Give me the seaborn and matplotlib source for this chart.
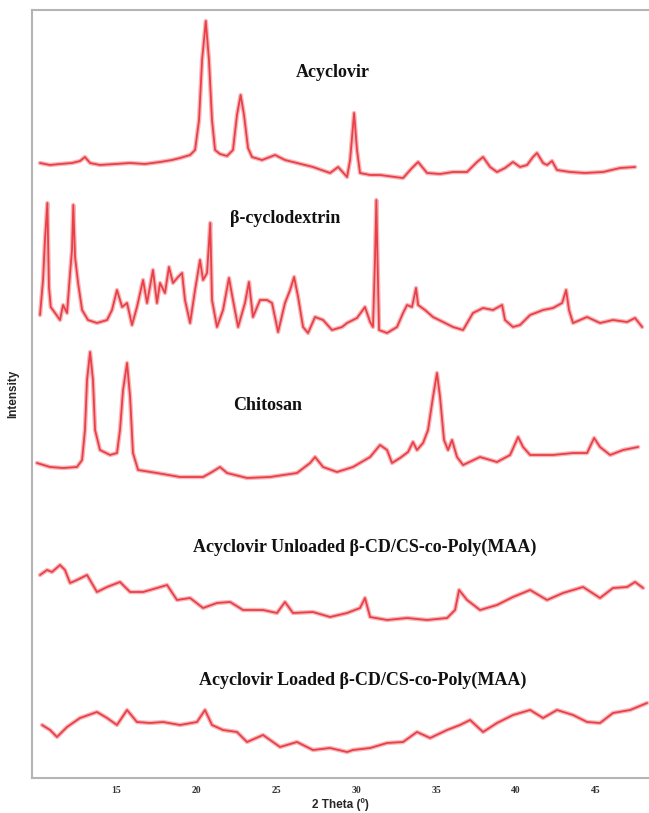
import numpy as np
import pandas as pd
import seaborn as sns
import matplotlib
matplotlib.use("Agg")
import matplotlib.pyplot as plt

# ---- XRD patterns (2θ in degrees, relative intensity in arbitrary units) ----
acv_theta = [10.25, 10.88, 11.5, 12.25, 12.75, 13.06, 13.38, 14.0, 14.94, 15.88, 16.81, 17.75,
             18.5, 19.0, 19.63, 19.94, 20.19, 20.38, 20.61, 20.81, 21.0, 21.19, 21.5, 21.94,
             22.31, 22.56, 22.79, 23.0, 23.25, 23.5, 24.13, 24.94, 25.56, 26.31, 27.31, 28.38,
             28.88, 29.44, 29.63, 29.88, 30.06, 30.25, 30.88, 31.5, 32.44, 32.94, 33.5, 33.88,
             34.44, 35.25, 36.06, 36.94, 37.56, 37.94, 38.38, 38.81, 39.31, 39.81, 40.25, 40.69,
             41.06, 41.31, 41.69, 41.94, 42.25, 42.56, 43.38, 44.31, 45.44, 46.5, 47.44]
acv_int = [15, 13, 14, 15, 17, 21, 15, 13, 14, 15, 14, 16,
           18, 20, 23, 28, 58, 118, 157, 118, 58, 28, 24, 22,
           28, 63, 83, 63, 30, 21, 18, 23, 18, 15, 11, 5,
           11, 1, 18, 65, 28, 5, 3, 3, 1, 0, 10, 16,
           5, 4, 6, 6, 16, 21, 11, 6, 10, 16, 11, 13,
           21, 25, 15, 13, 17, 8, 6, 5, 6, 10, 11]

bcd_theta = [10.25, 10.44, 10.56, 10.71, 10.81, 10.92, 11.19, 11.5, 11.69, 11.94, 12.13, 12.25,
             12.33, 12.44, 12.63, 12.88, 13.25, 13.81, 14.44, 14.75, 15.06, 15.38, 15.69, 16.0,
             16.31, 16.69, 16.94, 17.31, 17.56, 17.75, 18.06, 18.31, 18.56, 18.88, 19.13, 19.31,
             19.63, 19.94, 20.25, 20.44, 20.69, 20.89, 21.0, 21.31, 21.69, 22.06, 22.31, 22.63,
             23.06, 23.31, 23.56, 24.0, 24.44, 24.75, 25.13, 25.56, 25.88, 26.13, 26.38, 26.69,
             27.0, 27.44, 27.94, 28.5, 29.13, 29.44, 30.06, 30.56, 30.88, 31.06, 31.19, 31.27,
             31.34, 31.44, 31.94, 32.56, 32.94, 33.19, 33.5, 33.75, 33.88, 34.31, 34.81, 35.44,
             36.06, 36.69, 37.31, 37.94, 38.56, 39.13, 39.31, 39.81, 40.25, 40.88, 41.69, 42.31,
             42.88, 43.13, 43.31, 43.56, 44.44, 45.25, 46.06, 46.94, 47.44, 47.88]
bcd_int = [20, 55, 95, 132, 48, 28, 22, 15, 30, 22, 62, 85,
           130, 78, 52, 25, 15, 12, 15, 25, 45, 28, 32, 10,
           28, 55, 32, 65, 32, 52, 42, 68, 52, 58, 62, 35,
           12, 45, 75, 55, 62, 112, 35, 8, 25, 57, 35, 8,
           32, 53, 18, 35, 35, 32, 3, 32, 45, 58, 38, 8,
           2, 18, 15, 5, 8, 12, 17, 28, 13, 8, 78, 135,
           78, 5, 2, 8, 22, 30, 28, 47, 30, 25, 18, 13,
           8, 5, 22, 27, 25, 30, 15, 8, 10, 20, 25, 27,
           32, 45, 25, 12, 18, 12, 15, 13, 17, 8]

cs_theta = [10.06, 10.88, 11.69, 12.56, 12.88, 13.06, 13.19, 13.38, 13.56, 13.69, 14.0, 14.63,
            15.06, 15.25, 15.44, 15.69, 15.88, 16.06, 16.38, 17.56, 19.0, 20.44, 21.0, 21.5,
            21.94, 23.19, 24.63, 26.31, 27.13, 27.44, 27.94, 28.81, 29.81, 30.88, 31.5, 31.94,
            32.25, 32.75, 33.25, 33.56, 33.81, 34.19, 34.5, 34.81, 35.06, 35.25, 35.5, 35.75,
            36.0, 36.31, 36.69, 37.75, 38.81, 39.63, 40.13, 40.44, 40.88, 42.31, 43.56, 44.44,
            44.88, 45.25, 45.88, 46.69, 47.63]
cs_int = [17, 13, 12, 13, 20, 50, 100, 128, 100, 50, 30, 25,
          27, 50, 90, 117, 83, 27, 10, 7, 3, 3, 8, 13,
          7, 2, 3, 7, 17, 23, 13, 8, 13, 23, 35, 30,
          17, 22, 28, 38, 30, 37, 50, 83, 107, 83, 40, 30,
          40, 23, 15, 23, 18, 25, 43, 33, 25, 25, 27, 27,
          42, 33, 25, 30, 33]

unl_theta = [10.25, 10.69, 11.0, 11.5, 11.81, 12.13, 12.56, 13.19, 13.81, 14.44, 15.25, 15.88,
             16.69, 17.56, 18.19, 18.81, 19.63, 20.44, 21.31, 22.13, 22.94, 24.19, 25.06, 25.56,
             26.06, 27.31, 28.38, 29.44, 30.25, 30.56, 30.88, 31.94, 33.19, 34.44, 35.69, 36.19,
             36.44, 36.94, 37.75, 38.81, 39.81, 40.88, 41.94, 42.94, 44.19, 45.25, 46.06, 46.94,
             47.44, 47.94]
unl_int = [50, 55, 53, 60, 55, 42, 45, 50, 33, 38, 43, 33,
           33, 37, 40, 25, 27, 17, 22, 23, 15, 15, 12, 23,
           12, 13, 8, 12, 17, 27, 8, 5, 7, 5, 7, 15,
           35, 25, 15, 20, 28, 35, 25, 32, 38, 27, 37, 38,
           43, 37]

ld_theta = [10.38, 10.88, 11.31, 11.94, 12.75, 13.81, 14.44, 15.06, 15.69, 16.31, 17.13, 17.94,
            19.0, 20.06, 20.56, 21.0, 21.69, 22.56, 23.19, 24.19, 25.25, 26.31, 27.31, 28.38,
            29.44, 29.81, 30.88, 31.94, 32.94, 33.81, 34.63, 35.69, 36.5, 37.13, 37.94, 38.81,
            39.81, 40.88, 41.69, 42.56, 43.56, 44.44, 45.25, 46.06, 47.13, 48.19]
ld_int = [35, 30, 23, 33, 42, 48, 42, 35, 50, 38, 37, 38,
          35, 38, 50, 35, 30, 28, 18, 25, 13, 18, 10, 12,
          8, 10, 12, 17, 18, 28, 22, 30, 35, 40, 28, 37,
          45, 50, 42, 50, 45, 38, 37, 47, 50, 57]

samples = ["Acyclovir", "β-cyclodextrin", "Chitosan",
           "Acyclovir Unloaded β-CD/CS-co-Poly(MAA)",
           "Acyclovir Loaded β-CD/CS-co-Poly(MAA)"]
x_ticks = [15, 20, 25, 30, 35, 40, 45]

# vertical stacking of the patterns
offsets = [600, 443, 298, 153, 18]

thetas = [acv_theta, bcd_theta, cs_theta, unl_theta, ld_theta]
ints = [acv_int, bcd_int, cs_int, unl_int, ld_int]

frames = []
for name, th, it, off in zip(samples, thetas, ints, offsets):
    frames.append(pd.DataFrame({"theta": th,
                                "intensity": np.asarray(it, float) + off,
                                "sample": name}))
df = pd.concat(frames, ignore_index=True)

sns.set_theme(style="white")
plt.rcParams["font.family"] = ["Liberation Serif", "DejaVu Serif"]

fig = plt.figure(figsize=(6.49, 8.13), dpi=100)
ax = fig.add_axes([32 / 649, 35 / 813, 1 - 32 / 649, 768 / 813])

red = "#e8333c"
pal = [red] * len(samples)
# soft band under each trace, then the trace itself
sns.lineplot(data=df, x="theta", y="intensity", hue="sample", palette=pal,
             estimator=None, sort=False, legend=False, linewidth=3.2,
             alpha=0.35, ax=ax)
sns.lineplot(data=df, x="theta", y="intensity", hue="sample", palette=pal,
             estimator=None, sort=False, legend=False, linewidth=1.3,
             alpha=0.9, ax=ax)

ax.set_xlim(9.75, 48.31)
ax.set_ylim(0, 768)
ax.set_xticks(x_ticks)
ax.set_xticklabels([str(t) for t in x_ticks], fontsize=7, fontweight="bold",
                   color="#333333")
ax.set_yticks([])
ax.tick_params(axis="x", length=0, pad=6)

for side in ["left", "top", "bottom"]:
    ax.spines[side].set_color("#b4b4b4")
    ax.spines[side].set_linewidth(1.5)
ax.spines["right"].set_visible(False)

ax.set_xlabel("2 Theta (º)", fontsize=8.5, fontweight="bold",
              family=["Liberation Sans", "DejaVu Sans"], labelpad=2)
ax.set_ylabel("Intensity", fontsize=8.5, fontweight="bold",
              family=["Liberation Sans", "DejaVu Sans"], labelpad=9)

label_pos = [(28.56, 706), (25.56, 560), (24.5, 373), (30.56, 231), (30.4, 98)]
for name, (lx, ly) in zip(samples, label_pos):
    ax.text(lx, ly, name, ha="center", va="center", fontsize=13,
            fontweight="bold", color="#111111")

fig.savefig("out.png", dpi=100)
